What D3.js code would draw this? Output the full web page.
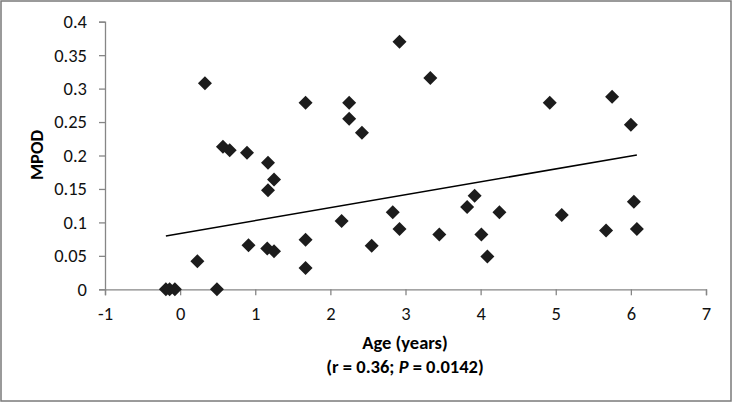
<!DOCTYPE html>
<html>
<head>
<meta charset="utf-8">
<script src="https://cdn.jsdelivr.net/npm/d3@7"></script>
<style>
  body { margin: 0; background: #fff; }
  svg text { font-family: Carlito, Lato, "Open Sans", sans-serif; }
</style>
</head>
<body>
<svg id="chart" width="733" height="403"></svg>
<script>
// age (years) and MPOD for each subject
const ages = [-0.19, -0.14, -0.07, 0.23, 0.49, 0.33, 0.57, 0.66, 0.89,
  1.17, 1.25, 1.17, 1.67, 2.25, 2.25, 2.42, 2.92, 3.33, 4.92, 5.75, 6.0,
  0.91, 1.16, 1.25, 1.67, 1.67, 2.15, 2.55, 2.83, 2.92, 3.45, 3.82, 3.92,
  4.01, 4.09, 4.25, 5.08, 5.67, 6.04, 6.08];
const mpod = [0, 0, 0, 0.042, 0, 0.308, 0.213, 0.208, 0.204,
  0.189, 0.164, 0.148, 0.279, 0.279, 0.255, 0.234, 0.37, 0.316, 0.279, 0.288, 0.246,
  0.066, 0.061, 0.057, 0.074, 0.032, 0.102, 0.065, 0.115, 0.09, 0.082, 0.123, 0.14,
  0.082, 0.049, 0.115, 0.111, 0.088, 0.131, 0.09];

// linear trendline ends
const trendX = [-0.19, 6.08];
const trendY = [0.0797, 0.2008];

const xTicks = [-1, 0, 1, 2, 3, 4, 5, 6, 7];
const yTicks = [0, 0.05, 0.1, 0.15, 0.2, 0.25, 0.3, 0.35, 0.4];

const svg = d3.select('#chart');

// outer border
svg.append('rect')
  .attr('x', 1).attr('y', 1)
  .attr('width', 730).attr('height', 400)
  .attr('fill', 'none')
  .attr('stroke', '#7a7a7a')
  .attr('stroke-width', 1.5);

const x = d3.scaleLinear().domain([-1, 7]).range([105, 706]);
const y = d3.scaleLinear().domain([0, 0.4]).range([289.3, 21.7]);

const xAxis = svg.append('g')
  .attr('transform', 'translate(0,' + y(0) + ')')
  .call(d3.axisBottom(x).tickValues(xTicks).tickSize(6).tickPadding(12)
    .tickFormat(d => String(d)));

const yAxis = svg.append('g')
  .attr('transform', 'translate(' + x(-1) + ',0)')
  .call(d3.axisLeft(y).tickValues(yTicks).tickSize(6).tickPadding(12)
    .tickFormat(d => String(d)));

[xAxis, yAxis].forEach(g => {
  g.select('.domain').attr('stroke', '#868686').attr('stroke-width', 1.3);
  g.selectAll('.tick line').attr('stroke', '#868686').attr('stroke-width', 1.3);
  g.selectAll('.tick text')
    .attr('fill', '#111')
    .style('font-size', '18.5px')
    .style('font-family', 'Carlito, Lato, "Open Sans", sans-serif');
});

// trendline
svg.append('line')
  .attr('x1', x(trendX[0])).attr('y1', y(trendY[0]))
  .attr('x2', x(trendX[1])).attr('y2', y(trendY[1]))
  .attr('stroke', '#000')
  .attr('stroke-width', 1.5);

// diamonds
const pts = ages.map((a, i) => ({ a: a, m: mpod[i] }));
svg.append('g').selectAll('path')
  .data(pts)
  .enter()
  .append('path')
  .attr('d', 'M0,-7L7,0L0,7L-7,0Z')
  .attr('transform', d => 'translate(' + x(d.a) + ',' + y(d.m) + ')')
  .attr('fill', '#1c1c1c');

// axis titles
svg.append('text')
  .attr('x', 405).attr('y', 349)
  .attr('text-anchor', 'middle')
  .style('font-size', '18.5px')
  .style('font-weight', 'bold')
  .text('Age (years)');

const t2 = svg.append('text')
  .attr('x', 405).attr('y', 373)
  .attr('text-anchor', 'middle')
  .style('font-size', '18.5px')
  .style('font-weight', 'bold');
t2.append('tspan').text('(r = 0.36; ');
t2.append('tspan').style('font-style', 'italic').text('P');
t2.append('tspan').text(' = 0.0142)');

svg.append('text')
  .attr('transform', 'translate(43,155) rotate(-90)')
  .attr('text-anchor', 'middle')
  .style('font-size', '18.5px')
  .style('font-weight', 'bold')
  .text('MPOD');
</script>
</body>
</html>
